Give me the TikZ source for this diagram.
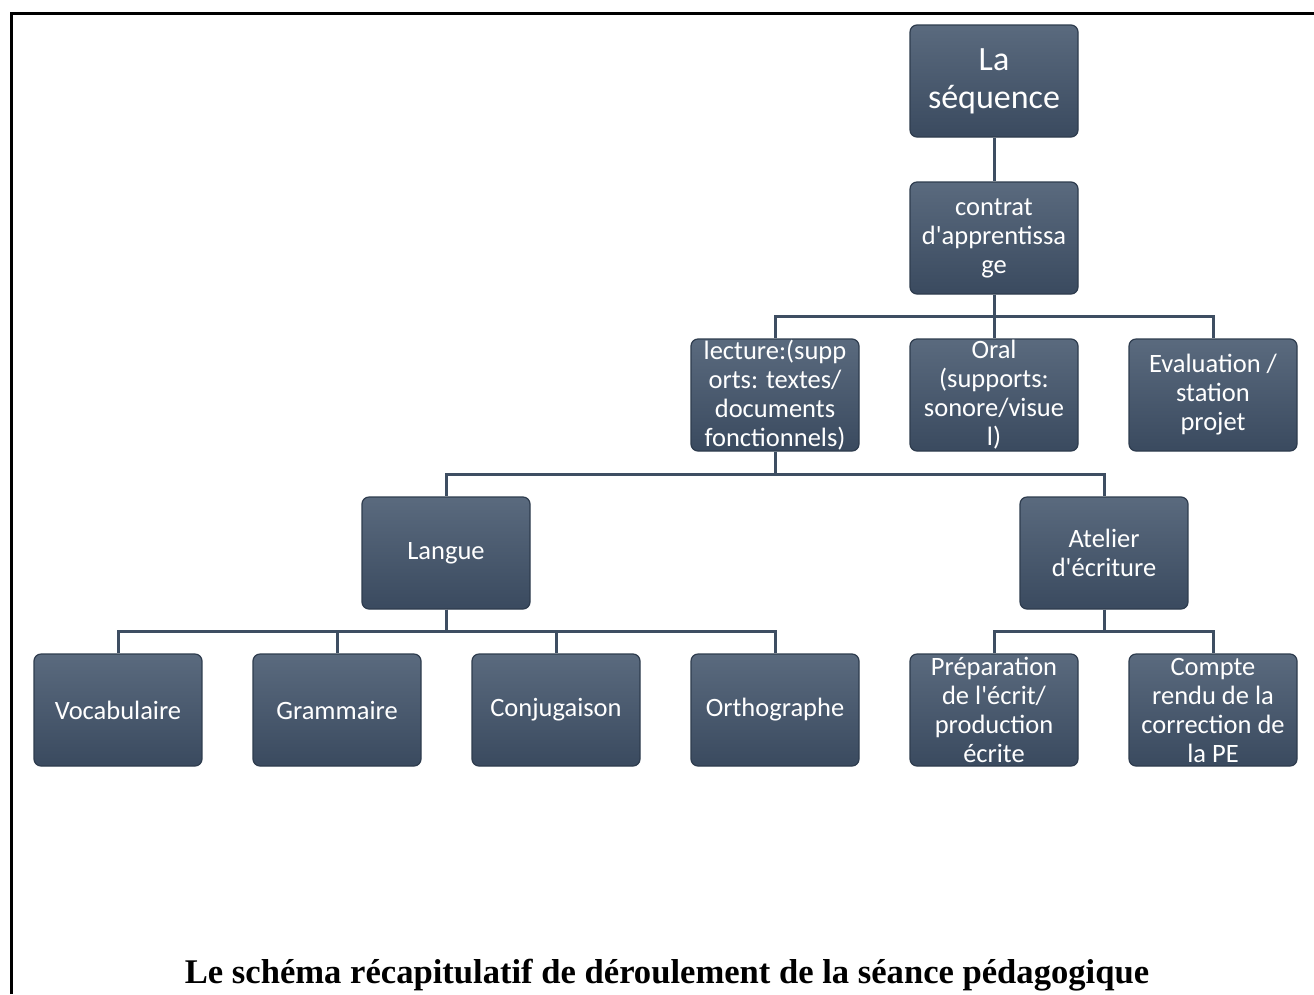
\documentclass[tikz,border=0pt]{standalone}
\usepackage{fontspec}
\setmainfont{Carlito}[Ligatures=TeXOff]
\newfontfamily\capfont{Liberation Serif}
\definecolor{boxtop}{HTML}{5A6A7E}
\definecolor{boxbot}{HTML}{3A4A5F}
\definecolor{boxedge}{HTML}{2E3C4E}
\definecolor{linkc}{HTML}{3E4E62}
\tikzset{
  box/.style={rectangle, rounded corners=7pt, minimum width=168pt, minimum height=112pt,
    top color=boxtop, bottom color=boxbot, draw=boxedge, line width=1.2pt,
    text=white, align=center, font=\fontsize{26.5}{29}\selectfont, inner sep=0pt},
  bigbox/.style={box, font=\fontsize{34}{38}\selectfont},
  link/.style={draw=linkc, line width=3pt},
}
\begin{document}
\begin{tikzpicture}[x=1pt,y=-1pt]
\useasboundingbox (0,0) rectangle (1314,994);
\fill[white] (0,0) rectangle (1314,994);
\draw[line width=3pt] (11.5,994) -- (11.5,13.5) -- (1314,13.5);

\node[bigbox] (seq) at (994,81) {La\\séquence};
\node[box] (contrat) at (994,238) {contrat\\d'apprentissa\\ge};
\node[box] (lecture) at (775,395) {lecture:(supp\\orts: textes/\\documents\\fonctionnels)};
\node[box] (oral) at (994,395) {Oral\\(supports:\\sonore/visue\\l)};
\node[box] (eval) at (1213,395) {Evaluation /\\station\\projet};
\node[box] (langue) at (446,553) {Langue};
\node[box] (atelier) at (1104,553) {Atelier\\d'écriture};
\node[box] (voc) at (118,710) {Vocabulaire};
\node[box] (gram) at (337,710) {Grammaire};
\node[box] (conj) at (556,710) {Conjugaison};
\node[box] (ortho) at (775,710) {Orthographe};
\node[box] (prep) at (994,710) {Préparation\\de l'écrit/\\production\\écrite};
\node[box] (compte) at (1213,710) {Compte\\rendu de la\\correction de\\la PE};

\draw[link] (seq.south) -- (contrat.north);
\draw[link] (contrat.south) -- ++(0,22) -| (lecture.north);
\draw[link] (contrat.south) -- ++(0,22) -- (oral.north);
\draw[link] (contrat.south) -- ++(0,22) -| (eval.north);
\draw[link] (lecture.south) -- ++(0,23) -| (langue.north);
\draw[link] (lecture.south) -- ++(0,23) -| (atelier.north);
\draw[link] (langue.south) -- ++(0,22) -| (voc.north);
\draw[link] (langue.south) -- ++(0,22) -| (gram.north);
\draw[link] (langue.south) -- ++(0,22) -| (conj.north);
\draw[link] (langue.south) -- ++(0,22) -| (ortho.north);
\draw[link] (atelier.south) -- ++(0,22) -| (prep.north);
\draw[link] (atelier.south) -- ++(0,22) -| (compte.north);

\node[anchor=base, font=\capfont\bfseries\fontsize{34.6}{40}\selectfont] (cap) at (667,983)
  {Le schéma récapitulatif de déroulement de la séance pédagogique};
\end{tikzpicture}
\end{document}
